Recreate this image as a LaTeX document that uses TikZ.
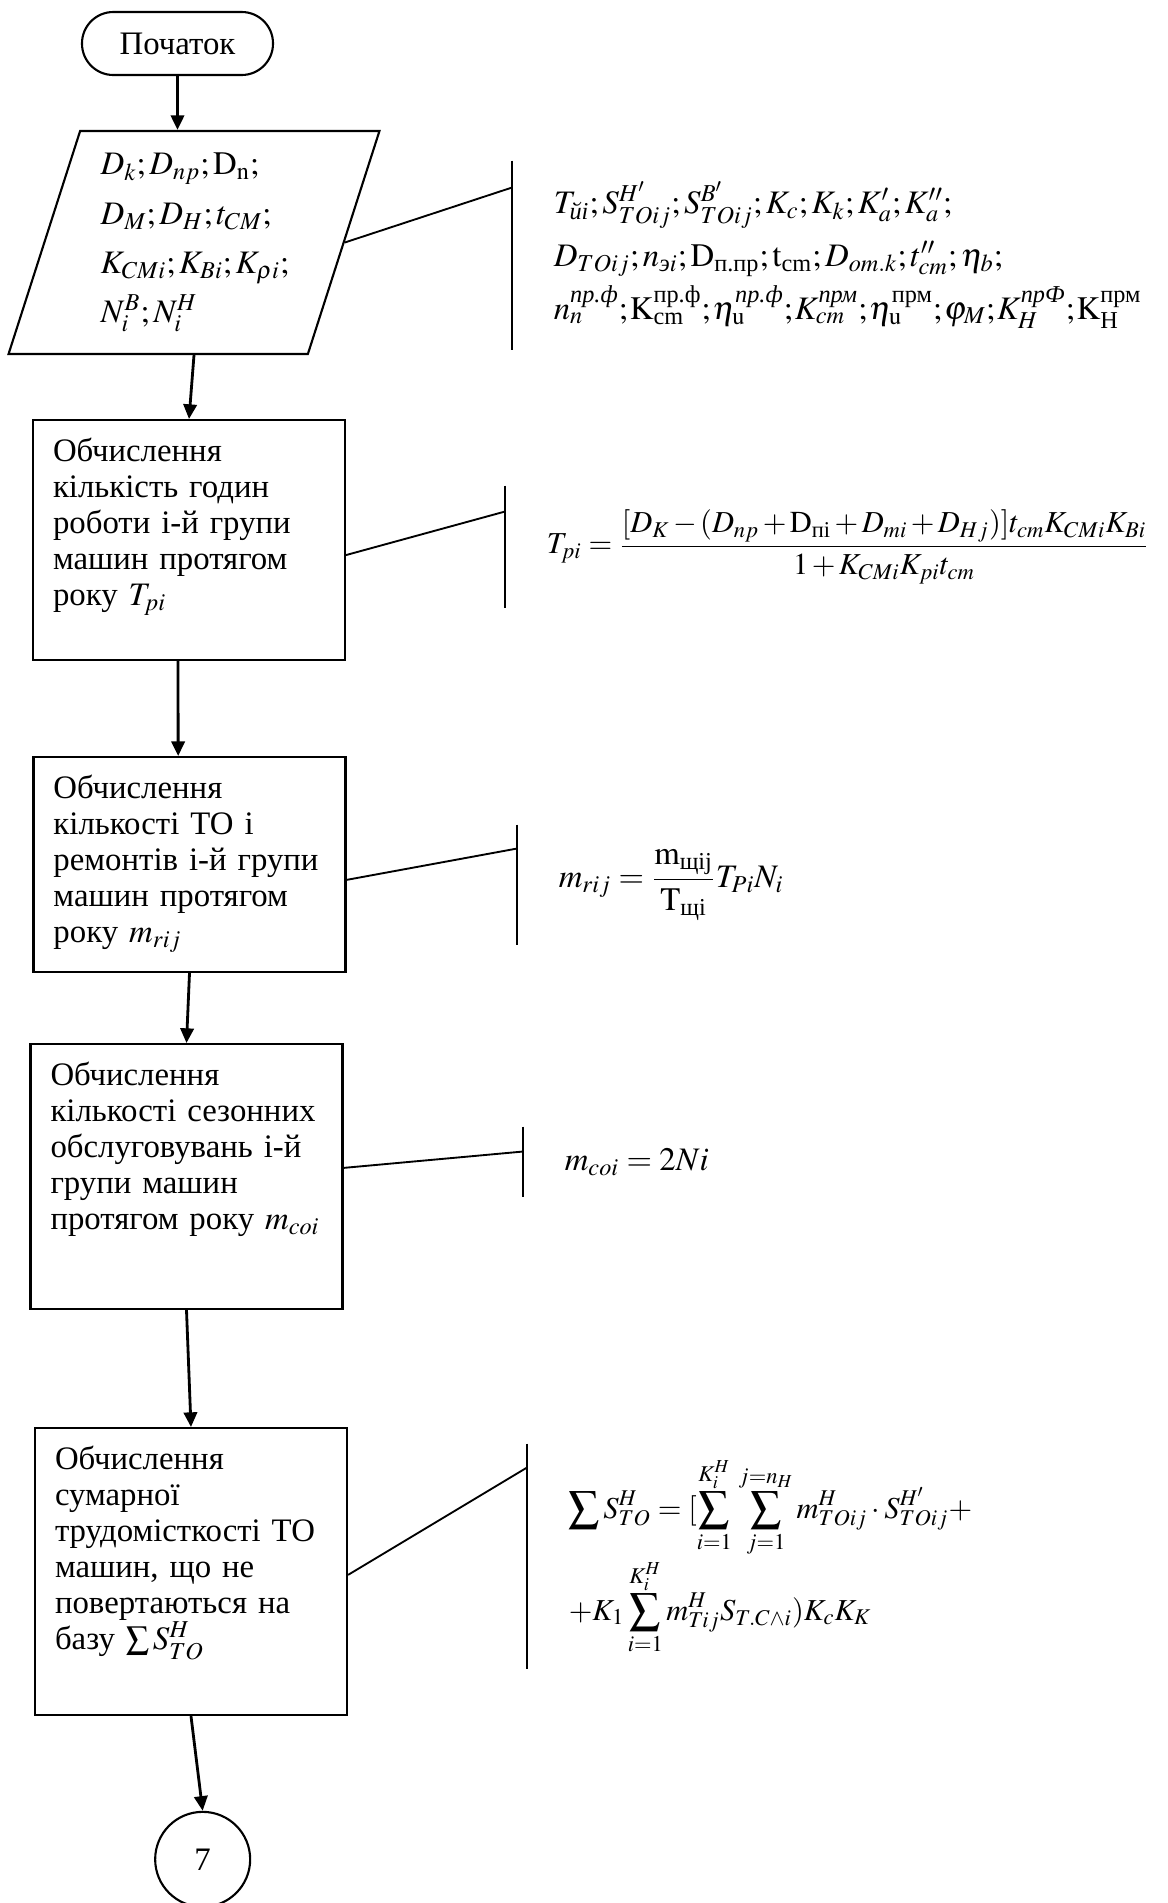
\documentclass[tikz,border=0pt]{standalone}
\usepackage{amsmath}
\usepackage{mathptmx}
\usepackage{fontspec}
\setmainfont{Liberation Serif}
\usetikzlibrary{arrows.meta,
                positioning,
                shapes.geometric}

\begin{document}
\begin{tikzpicture}[
        font=\fontsize{14pt}{15.4pt}\selectfont,
        startstop/.style={rectangle, rounded corners=0.47cm, minimum width=2.865cm, minimum height=0.945cm, text centered, draw=black, line width=0.9pt},
        io/.style={trapezium, trapezium left angle=71.9, trapezium right angle=108.1, trapezium stretches=true, minimum width=5.565cm, minimum height=3.345cm, text width=2.8cm, align=left, draw=black, line width=0.9pt, font=\fontsize{14pt}{21pt}\selectfont},
        process/.style={rectangle, anchor=north, text width=4.08cm, inner xsep=0.3cm, inner ysep=0pt, text height=0.615cm, align=left, draw=black, line width=0.9pt},
        connector/.style={circle, minimum size=1.425cm, text centered, draw=black, line width=0.9pt},
        comment/.style={anchor=west, inner xsep=0.62cm, inner ysep=0pt, align=left},
        flow/.style={arrows=-{Triangle[width=0.2cm, length=0.22cm]}, line width=1.2pt},
        link/.style={line width=0.8pt}
        ]

        \useasboundingbox (0,0) rectangle (17.52,-28.545);

        \node (start)  [startstop]                         at (2.6625,-0.6525)  {Початок};
        \node (input)  [io]                                at (2.91,-3.6375)
              {$D_k; D_{np}; \mathrm{D}_{\mathrm{n}};$\\
               $D_M; D_H; t_{CM};$\\
               $K_{CMi}; K_{Bi}; K_{\rho i};$\\
               $N_i^B; N_i^H$};
        \node (box2)   [process, text depth=2.985cm]       at (2.835,-6.285)
              {Обчислення\\ кількість годин\\ роботи і-й групи\\ машин протягом\\ року $T_{pi}$};
        \node (box3)   [process, text depth=2.61cm]        at (2.8425,-11.34)
              {Обчислення\\ кількості ТО і\\ ремонтів і-й групи\\ машин протягом\\ року $m_{rij}$};
        \node (box4)   [process, text depth=3.36cm]        at (2.7975,-15.645)
              {Обчислення\\ кількості сезонних\\ обслуговувань і-й\\ групи машин\\ протягом року $m_{coi}$};
        \node (box5)   [process, text depth=3.69cm]        at (2.865,-21.405)
              {Обчислення\\ сумарної\\ трудомісткості ТО\\ машин, що не\\ повертаються на\\ базу $\sum S^H_{TO}$};
        \node (jump)   [connector]                         at (3.04,-27.89)     {7};

        % comments to the right
        \node (note1)  [comment, minimum height=2.835cm, font=\fontsize{14pt}{22.5pt}\selectfont] at (7.68,-3.8325)
              {$T_{\textit{йi}}; S^{H'}_{TOij}; S^{B'}_{TOij}; K_c; K_k; K^{\prime}_a; K^{\prime\prime}_a;$\\
               $D_{TOij}; n_{\textit{э}i}; \mathrm{D}_{\text{п.пр}}; \mathrm{t}_{\text{cm}}; D_{om.k}; t^{\prime\prime}_{cm}; \eta_b;$\\
               $\thinmuskip=1mu n^{\textit{пр.ф}}_n; \mathrm{K}^{\text{пр.ф}}_{\text{cm}}; \eta^{\textit{пр.ф}}_{\mathrm{u}}; K^{\textit{прм}}_{cm}; \eta^{\text{прм}}_{\mathrm{u}}; \varphi_M; K^{\textit{прФ}}_H; \mathrm{K}^{\text{прм}}_{\text{Н}}$};
        \node (note2)  [comment, minimum height=1.83cm, font=\fontsize{13pt}{15pt}\selectfont] at (7.575,-8.205)
              {$\medmuskip=2mu T_{pi} = \dfrac{[D_K - (D_{np} + \mathrm{D}_{\text{пі}} + D_{mi} + D_{Hj})]t_{cm}K_{CMi}K_{Bi}}{1 + K_{CMi}K_{pi}t_{cm}}$};
        \node (note3)  [comment, minimum height=1.8cm]    at (7.755,-13.275)
              {$m_{rij} = \dfrac{\mathrm{m}_{\text{щij}}}{\mathrm{T}_{\text{щі}}}T_{Pi}N_i$};
        \node (note4)  [comment, minimum height=1.05cm]   at (7.845,-17.43)
              {$m_{coi} = 2Ni$};
        \node (note5)  [comment, minimum height=3.375cm, font=\fontsize{13pt}{41pt}\selectfont] at (7.905,-23.3475)
              {$\displaystyle\sum S^H_{TO} = [\sum_{i=1}^{K_i^H}\,\sum_{j=1}^{j=n_H} m^H_{TOij}\cdot S^{H'}_{TOij} +$\\
               $\displaystyle + K_1\sum_{i=1}^{K_i^H} m^H_{Tij}S_{T.C\wedge i})K_cK_K$};

        \draw [flow] (start.south) -- (start.south |- input.north);
        \draw [flow] (input.center |- input.south) -- (box2.north);
        \draw [flow] ([xshift=-0.165cm]box2.south) -- ([xshift=-0.17cm]box3.north);
        \draw [flow] (box3.south) -- (box4.north);
        \draw [flow] (box4.south) -- (box5.north);
        \draw [flow] (box5.south) -- (jump.north);

        \draw [link] (note1.north west) -- (note1.south west);
        \draw [link] (note2.north west) -- (note2.south west);
        \draw [link] (note3.north west) -- (note3.south west);
        \draw [link] (note4.north west) -- (note4.south west);
        \draw [link] (note5.north west) -- (note5.south west);

        \draw [link] (input.east)                  -- ([yshift=-0.405cm]note1.north west);
        \draw [link] ([yshift=-0.225cm]box2.east)  -- ([yshift=-0.39cm]note2.north west);
        \draw [link] ([yshift=-0.23cm]box3.east)   -- ([yshift=-0.36cm]note3.north west);
        \draw [link] ([yshift=0.13cm]box4.east)    -- ([yshift=-0.375cm]note4.north west);
        \draw [link] ([yshift=-0.05cm]box5.east)   -- ([yshift=-0.36cm]note5.north west);

\end{tikzpicture}
\end{document}
